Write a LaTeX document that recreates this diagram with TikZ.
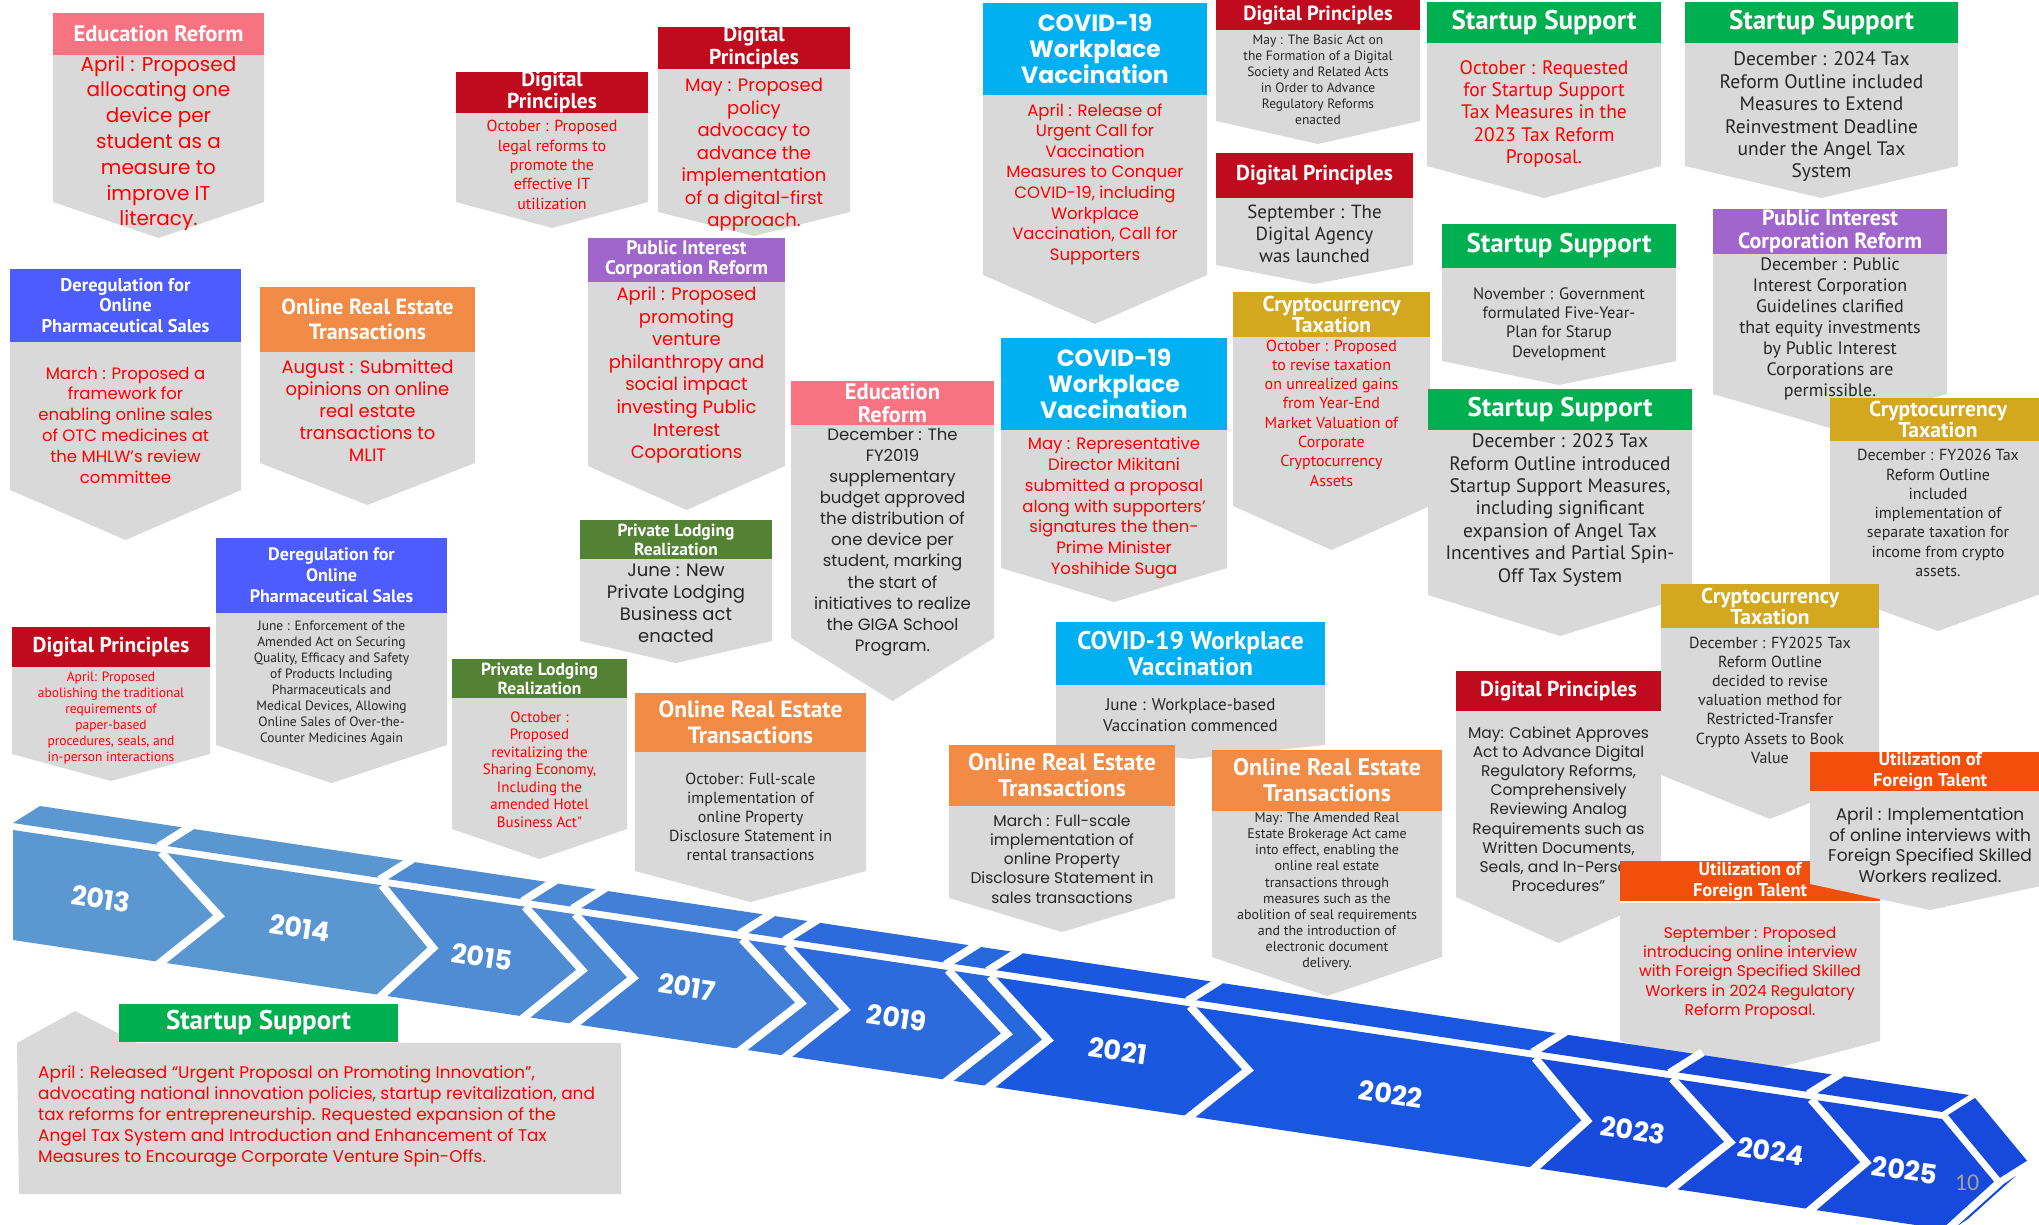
\documentclass[tikz,border=0pt]{standalone}
\usepackage{fontspec}
\setmainfont{Poppins}
\newfontfamily\twfont{PT Sans}
\newfontfamily\hdfont{PT Sans}
\newfontfamily\pgnumfont{Carlito}
\usetikzlibrary{calc}
\definecolor{boxgray}{HTML}{D9D9D9}
\definecolor{edu}{HTML}{F87382}
\definecolor{dig}{HTML}{C00A1E}
\definecolor{dereg}{HTML}{4C5CFF}
\definecolor{orng}{HTML}{F28B45}
\definecolor{purp}{HTML}{A066CC}
\definecolor{lodge}{HTML}{548235}
\definecolor{covid}{HTML}{00B0F0}
\definecolor{sgreen}{HTML}{00B050}
\definecolor{gold}{HTML}{D4A81E}
\definecolor{fort}{HTML}{F24E0C}
\definecolor{tred}{HTML}{FF0000}
\definecolor{tblk}{HTML}{262626}
\definecolor{pgc}{HTML}{A89F91}
\definecolor{tlA}{HTML}{5B97D0}
\definecolor{tlB}{HTML}{5A96D0}
\definecolor{tlC}{HTML}{508CD4}
\definecolor{tlD}{HTML}{4C89D4}
\definecolor{tlE}{HTML}{427FD7}
\definecolor{tlF}{HTML}{3C7ADA}
\definecolor{tlG}{HTML}{2D6BDC}
\definecolor{tlH}{HTML}{2868DD}
\definecolor{tlI}{HTML}{1B58E0}
\definecolor{tlJ}{HTML}{1A57E0}
\definecolor{tlK}{HTML}{174BDC}
\definecolor{tlL}{HTML}{174ADC}
\definecolor{tlM}{HTML}{164ADC}
\newcommand\pf[2]{\fontsize{#1}{#2}\selectfont}
\newcommand\tf[2]{\twfont\fontsize{#1}{#2}\selectfont}
\newcommand\hf[2]{\hdfont\bfseries\fontsize{#1}{#2}\selectfont}
% #1 colour, #2 name, #3 x1, #4 x2, #5 ytop, #6 yhead, #7 yside, #8 ytip
\newcommand\tlbox[8][boxgray]{%
  \fill[boxgray] (#3,#6) -- (#4,#6) -- (#4,#7) -- ({(#3+#4)/2},#8) -- (#3,#7) -- cycle;
  \fill[#1] (#3,#5) rectangle (#4,#6);
  \coordinate (#2-h) at ({(#3+#4)/2},{(#5+#6)/2});
}
\begin{document}
\begin{tikzpicture}[x=1pt,y=-1pt,
  hd/.style={text=white,align=center,inner sep=0pt},
  bd/.style={align=center,inner sep=0pt},
  rd/.style={bd,text=tred},
  bk/.style={bd,text=tblk},
  yr/.style={text=white,inner sep=0pt,rotate=-8.5,font={\pf{27}{30}\bfseries}}]
\useasboundingbox (0,0) rectangle (2039,1225);
\fill[white] (0,0) rectangle (2039,1225);

% ---------- 2013 Education Reform
\tlbox[edu]{A}{53}{264}{13}{55}{202}{238}
\node[hd,font={\hf{22.5}{24}}] (hA) at (A-h) {Education Reform};
\node[rd,font={\pf{20}{25.8}}] (bA) at (158.5,143.5) {April : Proposed\\allocating one\\device per\\student as a\\measure to\\improve IT\\literacy.};

% ---------- 2013 Digital Principles (April)
\tlbox[dig]{AA}{12}{210}{627}{667}{754}{781}
\node[hd,font={\hf{21.5}{24}}] (hAA) at (AA-h) {Digital Principles};
\node[rd,font={\tf{13.5}{16.1}}] (bAA) at (111,718) {April: Proposed\\abolishing the traditional\\requirements of\\paper-based\\procedures, seals, and\\in-person interactions};

% ---------- 2013 Deregulation (March)
\tlbox[dereg]{B}{10}{241}{269}{342}{490}{540}
\node[hd,font={\hf{18.5}{20.7}}] (hB) at (B-h) {Deregulation for\\Online\\Pharmaceutical Sales};
\node[rd,font={\pf{16.5}{20.8}}] (bB) at (125.5,425) {March : Proposed a\\framework for\\enabling online sales\\of OTC medicines at\\the MHLW’s review\\committee};

% ---------- 2014 Deregulation (June)
\tlbox[dereg]{BB}{216}{447}{538}{613}{745}{783}
\node[hd,font={\hf{18}{21}}] (hBB) at (BB-h) {Deregulation for\\Online\\Pharmaceutical Sales};
\node[bk,font={\tf{13.5}{16}}] (bBB) at (331.5,683) {June : Enforcement of the\\Amended Act on Securing\\Quality, Efficacy and Safety\\of Products Including\\Pharmaceuticals and\\Medical Devices, Allowing\\Online Sales of Over-the-\\Counter Medicines Again};

% ---------- 2014 Online Real Estate (August)
\tlbox[orng]{C}{260}{475}{287}{352}{463}{505}
\node[hd,font={\hf{22}{24.5}}] (hC) at (C-h) {Online Real Estate\\Transactions};
\node[rd,font={\pf{18}{22}}] (bC) at (367.5,411) {August : Submitted\\opinions on online\\real estate\\transactions to\\MLIT};

% ---------- 2015 Private Lodging (October)
\tlbox[lodge]{CC}{452}{627}{659}{698}{829}{859}
\node[hd,font={\hf{17.5}{19}}] (hCC) at (CC-h) {Private Lodging\\Realization};
\node[rd,font={\tf{15}{17.5}}] (bCC) at (539.5,769.5) {October :\\Proposed\\revitalizing the\\Sharing Economy,\\Including the\\amended Hotel\\Business Act"};

% ---------- 2015 Digital Principles (October)
\tlbox[dig]{D}{456}{648}{72}{113}{202}{228}
\node[hd,font={\hf{21.5}{22}}] (hD) at (D-h) {Digital\\Principles};
\node[rd,font={\tf{16}{19.3}}] (bD) at (552,165) {October : Proposed\\legal reforms to\\promote the\\effective IT\\utilization};

% ---------- 2017 Online Real Estate (October)
\tlbox[orng]{DD}{635}{866}{693}{752}{871}{902}
\node[hd,font={\hf{23.5}{26}}] (hDD) at (DD-h) {Online Real Estate\\Transactions};
\node[bk,font={\tf{16}{19}}] (bDD) at (750.5,817) {October: Full-scale\\implementation of\\online Property\\Disclosure Statement in\\rental transactions};

% ---------- Digital Principles (May)
\tlbox[dig]{F}{658}{850}{27}{69}{212}{236}
\node[hd,font={\hf{21.5}{23}}] (hF) at (F-h) {Digital\\Principles};
\node[rd,font={\pf{18}{22.5}}] (bF) at (754,155) {May : Proposed\\policy\\advocacy to\\advance the\\implementation\\of a digital-first\\approach.};

% ---------- Public Interest (April)
\tlbox[purp]{E}{588}{785}{238}{282}{466}{510}
\node[hd,font={\hf{19.5}{20}}] (hE) at (E-h) {Public Interest\\Corporation Reform};
\node[rd,font={\pf{18}{22.6}}] (bE) at (686.5,375) {April : Proposed\\promoting\\venture\\philanthropy and\\social impact\\investing Public\\Interest\\Coporations};

% ---------- Private Lodging (June)
\tlbox[lodge]{G}{580}{772}{520}{559}{641}{663}
\node[hd,font={\hf{17.5}{19}}] (hG) at (G-h) {Private Lodging\\Realization};
\node[bk,font={\pf{18}{22}}] (bG) at (676,603) {June : New\\Private Lodging\\Business act\\enacted};

% ---------- Education Reform (December)
\tlbox[edu]{H}{791}{994}{381}{425}{638}{701}
\node[hd,font={\hf{22.5}{23}}] (hH) at (H-h) {Education\\Reform};
\node[bk,font={\pf{16.5}{21.1}}] (bH) at (892.5,542) {December : The\\FY2019\\supplementary\\budget approved\\the distribution of\\one device per\\student, marking\\the start of\\initiatives to realize\\the GIGA School\\Program.};

% ---------- COVID (April)
\tlbox[covid]{I}{983}{1207}{3}{95}{275}{324}
\node[hd,font={\pf{23.5}{26}\bfseries}] (hI) at (I-h) {COVID-19\\Workplace\\Vaccination};
\node[rd,font={\pf{16.5}{20.6}}] (bI) at (1095,184) {April : Release of\\Urgent Call for\\Vaccination\\Measures to Conquer\\COVID-19, including\\Workplace\\Vaccination, Call for\\Supporters};

% ---------- COVID (May)
\tlbox[covid]{J}{1001}{1227}{338}{430}{568}{602}
\node[hd,font={\pf{23.5}{26}\bfseries}] (hJ) at (J-h) {COVID-19\\Workplace\\Vaccination};
\node[rd,font={\pf{16.5}{20.8}}] (bJ) at (1114,508) {May : Representative\\Director Mikitani\\submitted a proposal\\along with supporters’\\signatures the then-\\Prime Minister\\Yoshihide Suga};

% ---------- COVID (June)
\tlbox[covid]{K}{1056}{1325}{622}{685}{745}{759}
\node[hd,font={\hf{25.5}{26}}] (hK) at (K-h) {COVID-19 Workplace\\Vaccination};
\node[bk,font={\tf{17}{21}}] (bK) at (1190.5,715) {June : Workplace-based\\Vaccination commenced};

% ---------- Online Real Estate (March)
\tlbox[orng]{L}{949}{1175}{745}{806}{898}{932}
\node[hd,font={\hf{24}{26}}] (hL) at (L-h) {Online Real Estate\\Transactions};
\node[bk,font={\pf{15.5}{19.3}}] (bL) at (1062,859) {March : Full-scale\\implementation of\\online Property\\Disclosure Statement in\\sales transactions};

% ---------- Online Real Estate (May)
\tlbox[orng]{M}{1212}{1442}{750}{811}{957}{996}
\node[hd,font={\hf{24}{26}}] (hM) at (M-h) {Online Real Estate\\Transactions};
\node[bk,font={\tf{14}{16.1}}] (bM) at (1327,891.5) {May: The Amended Real\\Estate Brokerage Act came\\into effect, enabling the\\online real estate\\transactions through\\measures such as the\\abolition of seal requirements\\and the introduction of\\electronic document\\delivery.};

% ---------- Digital Principles (May, Basic Act)
\tlbox[dig]{N}{1216}{1420}{0}{30}{121}{144}
\node[hd,font={\hf{20.5}{22}}] (hN) at (N-h) {Digital Principles};
\node[bk,font={\tf{13.5}{16}}] (bN) at (1318,80) {May : The Basic Act on\\the Formation of a Digital\\Society and Related Acts\\in Order to Advance\\Regulatory Reforms\\enacted};

% ---------- Digital Principles (September)
\tlbox[dig]{O}{1216}{1413}{153}{198}{265}{284}
\node[hd,font={\hf{21.5}{24}}] (hO) at (O-h) {Digital Principles};
\node[bk,font={\tf{19}{22}}] (bO) at (1314.5,234) {September : The\\Digital Agency\\was launched};

% ---------- Startup Support (October)
\tlbox[sgreen]{P}{1427}{1661}{2}{43}{166}{198}
\node[hd,font={\hf{27}{28}}] (hP) at (P-h) {Startup Support};
\node[rd,font={\tf{19.5}{22.4}}] (bP) at (1544,114) {October : Requested\\for Startup Support\\Tax Measures in the\\2023 Tax Reform\\Proposal.};

% ---------- Startup Support (December 2024 Tax)
\tlbox[sgreen]{Q}{1685}{1958}{2}{43}{166}{198}
\node[hd,font={\hf{27}{28}}] (hQ) at (Q-h) {Startup Support};
\node[bk,font={\tf{19.5}{22.4}}] (bQ) at (1821.5,117) {December : 2024 Tax\\Reform Outline included\\Measures to Extend\\Reinvestment Deadline\\under the Angel Tax\\System};

% ---------- Startup Support (November)
\tlbox[sgreen]{R}{1442}{1676}{224}{268}{361}{385}
\node[hd,font={\hf{27}{28}}] (hR) at (R-h) {Startup Support};
\node[bk,font={\tf{16.5}{19.3}}] (bR) at (1559,324) {November : Government\\formulated Five-Year-\\Plan for Starup\\Development};

% ---------- Public Interest (December)
\tlbox[purp]{S}{1713}{1947}{209}{254}{394}{428}
\node[hd,font={\hf{22}{23}}] (hS) at (S-h) {Public Interest\\Corporation Reform};
\node[bk,font={\tf{18}{21}}] (bS) at (1830,329) {December : Public\\Interest Corporation\\Guidelines clarified\\that equity investments\\by Public Interest\\Corporations are\\permissible.};

% ---------- Cryptocurrency (October)
\tlbox[gold]{T}{1233}{1430}{292}{337}{506}{550}
\node[hd,font={\hf{21.5}{21}}] (hT) at (T-h) {Cryptocurrency\\Taxation};
\node[rd,font={\tf{16}{19.3}}] (bT) at (1331.5,413) {October : Proposed\\to revise taxation\\on unrealized gains\\from Year-End\\Market Valuation of\\Corporate\\Cryptocurrency\\Assets};

% ---------- Startup Support (December 2023 Tax)
\tlbox[sgreen]{U}{1428}{1692}{389}{430}{595}{636}
\node[hd,font={\hf{27}{28}}] (hU) at (U-h) {Startup Support};
\node[bk,font={\tf{19.5}{22.4}}] (bU) at (1560,510) {December : 2023 Tax\\Reform Outline introduced\\Startup Support Measures,\\including significant\\expansion of Angel Tax\\Incentives and Partial Spin-\\Off Tax System};

% ---------- Cryptocurrency (December FY2026)
\tlbox[gold]{V}{1830}{2046}{398}{441}{592}{631}
\node[hd,font={\hf{21.5}{21}}] (hV) at (V-h) {Cryptocurrency\\Taxation};
\node[bk,font={\tf{16}{19.3}}] (bV) at (1938,513) {December : FY2026 Tax\\Reform Outline\\included\\implementation of\\separate taxation for\\income from crypto\\assets.};

% ---------- Cryptocurrency (December FY2025)
\tlbox[gold]{W}{1661}{1879}{584}{628}{775}{819}
\node[hd,font={\hf{21.5}{21}}] (hW) at (W-h) {Cryptocurrency\\Taxation};
\node[bk,font={\tf{16}{19.2}}] (bW) at (1770,700) {December : FY2025 Tax\\Reform Outline\\decided to revise\\valuation method for\\Restricted-Transfer\\Crypto Assets to Book\\Value};

% ---------- Digital Principles (May, Cabinet)
\tlbox[dig]{Y}{1456}{1661}{671}{711}{897}{943}
\node[hd,font={\hf{21.5}{24}}] (hY) at (Y-h) {Digital Principles};
\node[bk,font={\pf{15.5}{19.2}}] (bY) at (1558.5,809) {May: Cabinet Approves\\Act to Advance Digital\\Regulatory Reforms,\\Comprehensively\\Reviewing Analog\\Requirements such as\\Written Documents,\\Seals, and In-Person\\Procedures"};

% ---------- Foreign Talent (September)
\tlbox[fort]{Z}{1620}{1880}{861}{901}{1041}{1075}
\draw[white,line width=2pt] (1620,902) -- (1880,902);
\node[hd,font={\hf{18.5}{21}}] (hZ) at (Z-h) {Utilization of\\Foreign Talent};
\node[rd,font={\pf{15.5}{19.3}}] (bZ) at (1750,973) {September : Proposed\\introducing online interview\\with Foreign Specified Skilled\\Workers in 2024 Regulatory\\Reform Proposal.};

% ---------- Foreign Talent (April)
\tlbox[fort]{X}{1810}{2050}{752}{791}{884}{910}
\node[hd,font={\hf{18.5}{21}}] (hX) at (X-h) {Utilization of\\Foreign Talent};
\node[bk,font={\pf{17}{20.8}}] (bX) at (1930,845) {April : Implementation\\of online interviews with\\Foreign Specified Skilled\\Workers realized.};

% ---------- Startup Support (2013, bottom)
\fill[boxgray] (17,1043) -- (75,1011) -- (137,1043) -- (621,1043) -- (621,1194) -- (19,1194) -- cycle;
\fill[sgreen] (119,1004) rectangle (398,1042);
\node[hd,font={\hf{27}{28}}] (hEE) at (258.5,1023) {Startup Support};
\node[bd,align=left,anchor=west,text=tred,font={\pf{16.9}{21}}] (bEE) at (38,1116) {April : Released “Urgent Proposal on Promoting Innovation”,\\advocating national innovation policies, startup revitalization, and\\tax reforms for entrepreneurship. Requested expansion of the\\Angel Tax System and Introduction and Enhancement of Tax\\Measures to Encourage Corporate Venture Spin-Offs.};

% ---------- Timeline
\coordinate (T0) at (13,830);
\coordinate (B0) at (13,940);
\coordinate (M0) at (13,885);
\foreach \ii/\cx/\tx in {1/161/219,2/382/433,3/525/582,4/575/633,5/742/801,6/787/845,7/948/1007,8/990/1048,9/1190/1248,10/1535/1587,11/1672/1730,12/1811/1866,13/1942/1994}{
  \coordinate (T\ii) at (\cx,{830+0.1498*(\cx-13)});
  \coordinate (B\ii) at (\cx,{940+0.1498*(\cx-13)});
  \coordinate (M\ii) at (\tx,{885+0.1498*(\tx-13)});
}
\foreach \ii/\col in {1/tlA,2/tlB,3/tlC,4/tlD,5/tlE,6/tlF,7/tlG,8/tlH,9/tlI,10/tlJ,11/tlK,12/tlL,13/tlM}{
  \pgfmathtruncatemacro\jj{\ii-1}
  \fill[\col] (T\jj) -- (T\ii) -- (M\ii) -- (B\ii) -- (B\jj) -- (M\jj) -- cycle;
  \fill[\col] ($(T\jj)+(0,-7)$) -- ($(T\ii)+(0,-7)$) -- ($(T\ii)+(27,-24)$) -- ($(T\jj)+(27,-24)$) -- cycle;
}
\foreach \ii in {1,...,12}{
  \draw[white,line width=8pt,shorten >=-8pt] (T\ii) -- (M\ii) -- (B\ii);
  \draw[white,line width=8pt,shorten <=-3pt,shorten >=-4pt] ($(T\ii)+(0,-7)$) -- ($(T\ii)+(27,-24)$);
}
% arrow head faces
\fill[tlM] ($(T13)+(6,-4)$) -- ($(T13)+(33,-21)$) -- ($(M13)+(33,-21)$) -- ($(M13)+(6,-4)$) -- cycle;
\fill[tlM] ($(M13)+(10,2)$) -- ($(M13)+(22,-6)$) -- ($(B13)+(26,-10)$) -- ($(B13)+(14,-2)$) -- cycle;

% year labels
\node[yr] (y2013) at (101,899) {2013};
\node[yr] (y2014) at (300,928) {2014};
\node[yr] (y2015) at (482,957) {2015};
\node[yr] (y2017) at (687,987) {2017};
\node[yr] (y2019) at (897,1018) {2019};
\node[yr] (y2021) at (1118,1051) {2021};
\node[yr] (y2022) at (1391,1094) {2022};
\node[yr] (y2023) at (1633,1130) {2023};
\node[yr] (y2024) at (1771,1151) {2024};
\node[yr] (y2025) at (1905,1170) {2025};
\node[text=pgc,inner sep=0pt,font={\pgnumfont\fontsize{24}{26}\selectfont}] (pg) at (1967,1183) {10};
\end{tikzpicture}
\end{document}
